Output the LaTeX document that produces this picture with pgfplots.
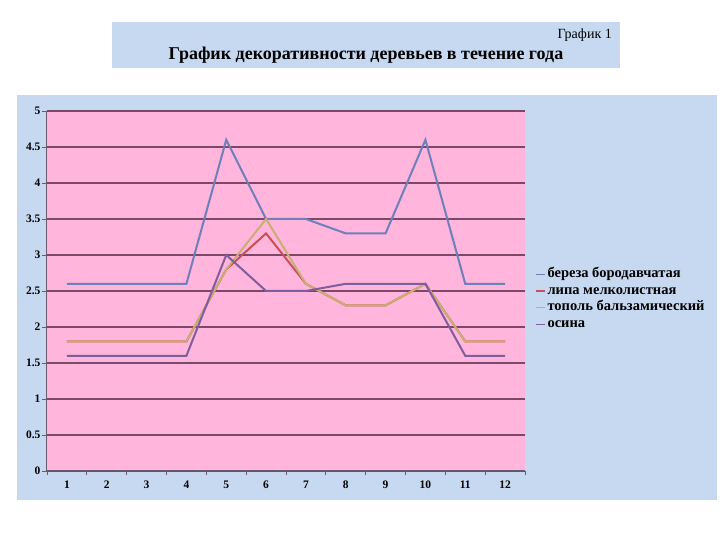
\documentclass[border=0pt]{standalone}
\usepackage{fontspec}
\setmainfont{Liberation Serif}
\usepackage{pgfplots}
\pgfplotsset{compat=1.18}
\definecolor{bgblue}{HTML}{C6D9F0}
\definecolor{pinkbg}{HTML}{FFB5DC}
\definecolor{gridc}{HTML}{7A4868}
\definecolor{axisc}{HTML}{6A5A70}
\definecolor{cbereza}{HTML}{6E80B8}
\definecolor{clipa}{HTML}{C8505A}
\definecolor{ctopol}{HTML}{C9AE74}
\definecolor{cosina}{HTML}{7E5E9C}
\begin{document}
\begin{tikzpicture}
\fill[white] (0pt,0pt) rectangle (720pt,540pt);
\fill[bgblue] (112pt,472pt) rectangle (620pt,518pt);
\node[anchor=east,font=\fontsize{14}{15}\selectfont,inner sep=0pt] at (612pt,505pt) {График 1};
\node[font=\bfseries\fontsize{18}{20}\selectfont,inner sep=0pt] at (366pt,485pt) {График декоративности деревьев в течение года};
\fill[bgblue] (17pt,40pt) rectangle (717pt,445pt);
\begin{axis}[
  at={(47pt,69pt)}, anchor=south west,
  width=478pt, height=360pt, scale only axis,
  xmin=0.5, xmax=12.5, ymin=0, ymax=5,
  xtick={1,...,12}, ytick={0,0.5,...,5},
  minor xtick={0.5,1.5,...,12.5},
  axis lines=left,
  axis line style={draw=axisc, line width=1pt, -},
  ymajorgrids, grid style={gridc, line width=1.1pt},
  axis background/.style={fill=pinkbg},
  every major x tick/.style={draw=none},
  tick align=outside, major tick length=5pt, minor tick length=4pt,
  tick style={axisc, line width=0.8pt},
  /pgf/number format/assume math mode=true,
  ticklabel style={font=\bfseries\fontsize{11.5}{12}\selectfont},
  xticklabel style={yshift=-1pt},
  yticklabel style={xshift=2pt},
  legend style={at={(1.021,0.566)}, anchor=north west, draw=none, fill=none,
    font=\bfseries\fontsize{14.5}{16}\selectfont, inner sep=0pt, row sep=3.2pt,
    nodes={inner sep=0pt, inner xsep=2pt, text height=10pt, text depth=3.5pt}},
  legend cell align=left,
  legend image code/.code={\draw[#1, line width=1.3pt] (0pt,0pt) -- (9pt,0pt);},
  every axis plot/.append style={line width=2pt},
]
\addplot[cbereza] coordinates {(1,2.6)(2,2.6)(3,2.6)(4,2.6)(5,4.6)(6,3.5)(7,3.5)(8,3.3)(9,3.3)(10,4.6)(11,2.6)(12,2.6)};
\addlegendentry{береза бородавчатая}
\addplot[clipa] coordinates {(1,1.8)(2,1.8)(3,1.8)(4,1.8)(5,2.8)(6,3.3)(7,2.6)(8,2.3)(9,2.3)(10,2.6)(11,1.8)(12,1.8)};
\addlegendentry{липа мелколистная}
\addplot[ctopol] coordinates {(1,1.8)(2,1.8)(3,1.8)(4,1.8)(5,2.8)(6,3.5)(7,2.6)(8,2.3)(9,2.3)(10,2.6)(11,1.8)(12,1.8)};
\addlegendentry{тополь бальзамический}
\addplot[cosina] coordinates {(1,1.6)(2,1.6)(3,1.6)(4,1.6)(5,3.0)(6,2.5)(7,2.5)(8,2.6)(9,2.6)(10,2.6)(11,1.6)(12,1.6)};
\addlegendentry{осина}
\end{axis}
\end{tikzpicture}
\end{document}
